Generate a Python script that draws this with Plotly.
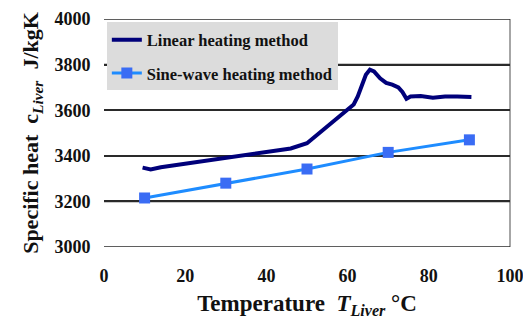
import plotly.graph_objects as go

linear_T = [9.5, 11.5, 14, 18, 22, 26, 30, 34, 38, 42, 46, 50, 52, 54, 56, 58, 60, 61.5, 62.5,
            63.5, 64.5, 65.5, 66.5, 68, 69.5, 71, 72.5, 73.5, 74.5, 75.5, 78, 81, 84, 87, 90.5]
linear_c = [3348, 3340, 3350, 3360, 3370, 3382, 3393, 3403, 3412, 3420, 3432, 3455, 3485, 3510,
            3540, 3570, 3600, 3625, 3660, 3710, 3755, 3778, 3770, 3740, 3720, 3712, 3700, 3680,
            3650, 3660, 3662, 3655, 3660, 3660, 3658]
sine_T = [10, 30, 50, 70, 90]
sine_c = [3215, 3280, 3342, 3415, 3470]

x_ticks = [0, 20, 40, 60, 80, 100]
y_ticks = [3000, 3200, 3400, 3600, 3800, 4000]

FONT = "Liberation Serif"
GRID = "#2a2a2a"

fig = go.Figure()

# horizontal gridlines at every y tick, spanning the x axis range
grid_x, grid_y = [], []
for v in y_ticks:
    grid_x += [x_ticks[0], x_ticks[-1], None]
    grid_y += [v, v, None]
fig.add_trace(go.Scatter(x=grid_x, y=grid_y, mode="lines", showlegend=False, hoverinfo="skip",
                         line=dict(color=GRID, width=1.5), cliponaxis=False))

fig.add_trace(go.Scatter(x=linear_T, y=linear_c, mode="lines", name="<b>Linear heating method</b>",
                         line=dict(color="#00007a", width=4), legendgroup="a"))
fig.add_trace(go.Scatter(x=sine_T, y=sine_c, mode="lines+markers", name="<b>Sine-wave heating method</b>",
                         line=dict(color="#1e8cff", width=3),
                         marker=dict(symbol="square", size=11, color="#3a6cf4"), legendgroup="b"))

fig.update_layout(
    width=523, height=317,
    margin=dict(l=96, r=21, t=11, b=78, autoexpand=False),
    paper_bgcolor="white", plot_bgcolor="white",
    font=dict(family=FONT, color="#111111", size=16),
    showlegend=True,
    legend=dict(x=0.007, y=0.985, xanchor="left", yanchor="top",
                bgcolor="#dcdcdc", borderwidth=0,
                font=dict(family=FONT, size=16.5, color="#111111"),
                traceorder="grouped", tracegroupgap=9, itemwidth=30),
    xaxis=dict(range=[0, 100], tickmode="array", tickvals=x_ticks,
               ticktext=[f"<b>{v}</b>" for v in x_ticks], ticklabeloverflow="allow",
               showgrid=False, zeroline=False, showline=False, automargin=False,
               ticks="outside", ticklen=12, tickcolor="rgba(0,0,0,0)",
               tickfont=dict(family=FONT, size=18, color="#111111"),
               title=dict(text="<b>Temperature  <i>T</i><sub><i>Liver</i></sub> °C</b>",
                          font=dict(family=FONT, size=23, color="#111111"),
                          standoff=10)),
    yaxis=dict(range=[3000, 4000], tickmode="array", tickvals=y_ticks,
               ticktext=[f"<b>{v}</b>" for v in y_ticks], ticklabeloverflow="allow",
               showgrid=True, gridcolor=GRID, automargin=False,
               gridwidth=1.5, zeroline=False, showline=False,
               ticks="outside", ticklen=9, tickcolor="rgba(0,0,0,0)",
               tickfont=dict(family=FONT, size=18, color="#111111"),
               title=dict(text="<b>Specific heat  c<sub><i>Liver</i></sub>  J/kgK</b>",
                          font=dict(family=FONT, size=22, color="#111111"),
                          standoff=9)),
    shapes=[
        dict(type="line", xref="x domain", yref="y domain", x0=1, x1=1, y0=0, y1=1,
             line=dict(color="#888888", width=1.5), layer="below"),
    ],
)

fig.write_html("out.html")
